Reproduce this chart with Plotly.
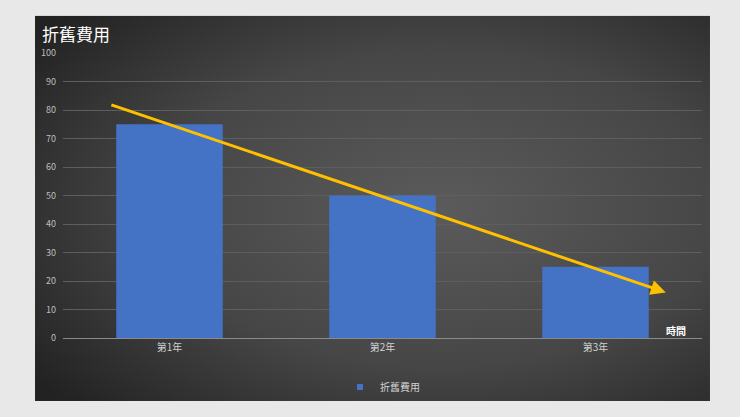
import plotly.graph_objects as go
import urllib.parse

categories = ["第1年", "第2年", "第3年"]
values = [75, 50, 25]
series_name = "折舊費用"
y_ticks = [0, 10, 20, 30, 40, 50, 60, 70, 80, 90, 100]
trend_start = (-0.28, 82)
trend_end = (2.33, 16)

FONT = "Noto Sans CJK TC, Noto Sans CJK SC, sans-serif"
BAR_COLOR = "#4472C4"

svg = (
    "<svg xmlns='http://www.w3.org/2000/svg' width='675' height='386' viewBox='0 0 675 386' preserveAspectRatio='none'>"
    "<defs><radialGradient id='g' cx='0.6' cy='0.5' r='0.75' fx='0.6' fy='0.5'>"
    "<stop offset='0' stop-color='#5b5b5b'/>"
    "<stop offset='0.55' stop-color='#464646'/>"
    "<stop offset='1' stop-color='#222222'/>"
    "</radialGradient></defs>"
    "<rect width='675' height='386' fill='url(#g)'/></svg>"
)
bg_src = "data:image/svg+xml;charset=utf-8," + urllib.parse.quote(svg)

fig = go.Figure()
fig.add_trace(go.Bar(
    x=categories, y=values, name=series_name, width=0.5,
    marker=dict(color=BAR_COLOR, line=dict(width=0)),
    showlegend=False, legendgroup="s",
))
# legend entry with a small square symbol
fig.add_trace(go.Scatter(
    x=[None], y=[None], mode="markers", name=series_name, legendgroup="s",
    marker=dict(symbol="square", size=6, color=BAR_COLOR),
    showlegend=True,
))

fig.add_annotation(
    x=trend_end[0], y=trend_end[1], ax=trend_start[0], ay=trend_start[1],
    xref="x", yref="y", axref="x", ayref="y", text="",
    showarrow=True, arrowhead=2, arrowsize=1.0, arrowwidth=3, arrowcolor="#FFC000",
)

fig.add_annotation(
    x=-0.036, y=1.07, xref="paper", yref="paper", xanchor="left", yanchor="middle",
    text="折舊費用", showarrow=False, font=dict(family=FONT, size=17, color="#ffffff"),
)
fig.add_annotation(
    x=0.959, y=0.028, xref="paper", yref="paper", xanchor="center", yanchor="middle",
    text="<b>時間</b>", showarrow=False, font=dict(family=FONT, size=10, color="#ffffff"),
)

fig.update_layout(
    width=740, height=417,
    margin=dict(l=63, r=38, t=53, b=79),
    paper_bgcolor="#e8e8e8",
    plot_bgcolor="rgba(0,0,0,0)",
    font=dict(family=FONT, color="#bfbfbf"),
    images=[dict(
        source=bg_src, xref="paper", yref="paper",
        x=-0.0438, y=1.131, sizex=1.0563, sizey=1.352,
        sizing="stretch", xanchor="left", yanchor="top", layer="below",
    )],
    xaxis=dict(
        range=[-0.5, 2.5], showgrid=False, zeroline=False,
        showline=True, linecolor="#8a8a8a", linewidth=1,
        ticks="", tickfont=dict(size=10, color="#d0d0d0"),
    ),
    yaxis=dict(
        range=[0, 100], tickvals=y_ticks, showgrid=True, gridcolor="#5e5e5e", gridwidth=1,
        zeroline=False, showline=False, ticks="", ticklabelstandoff=6,
        tickfont=dict(size=9, color="#bfbfbf"),
    ),
    legend=dict(
        orientation="h", x=0.5, xanchor="center", y=-0.172, yanchor="middle",
        font=dict(size=10, color="#d0d0d0"), bgcolor="rgba(0,0,0,0)",
        itemwidth=30,
    ),
)

fig.write_html(
    "out.html",
    config={"displayModeBar": False},
    post_script="document.body.style.margin='0px';document.body.style.background='#e8e8e8';",
)
